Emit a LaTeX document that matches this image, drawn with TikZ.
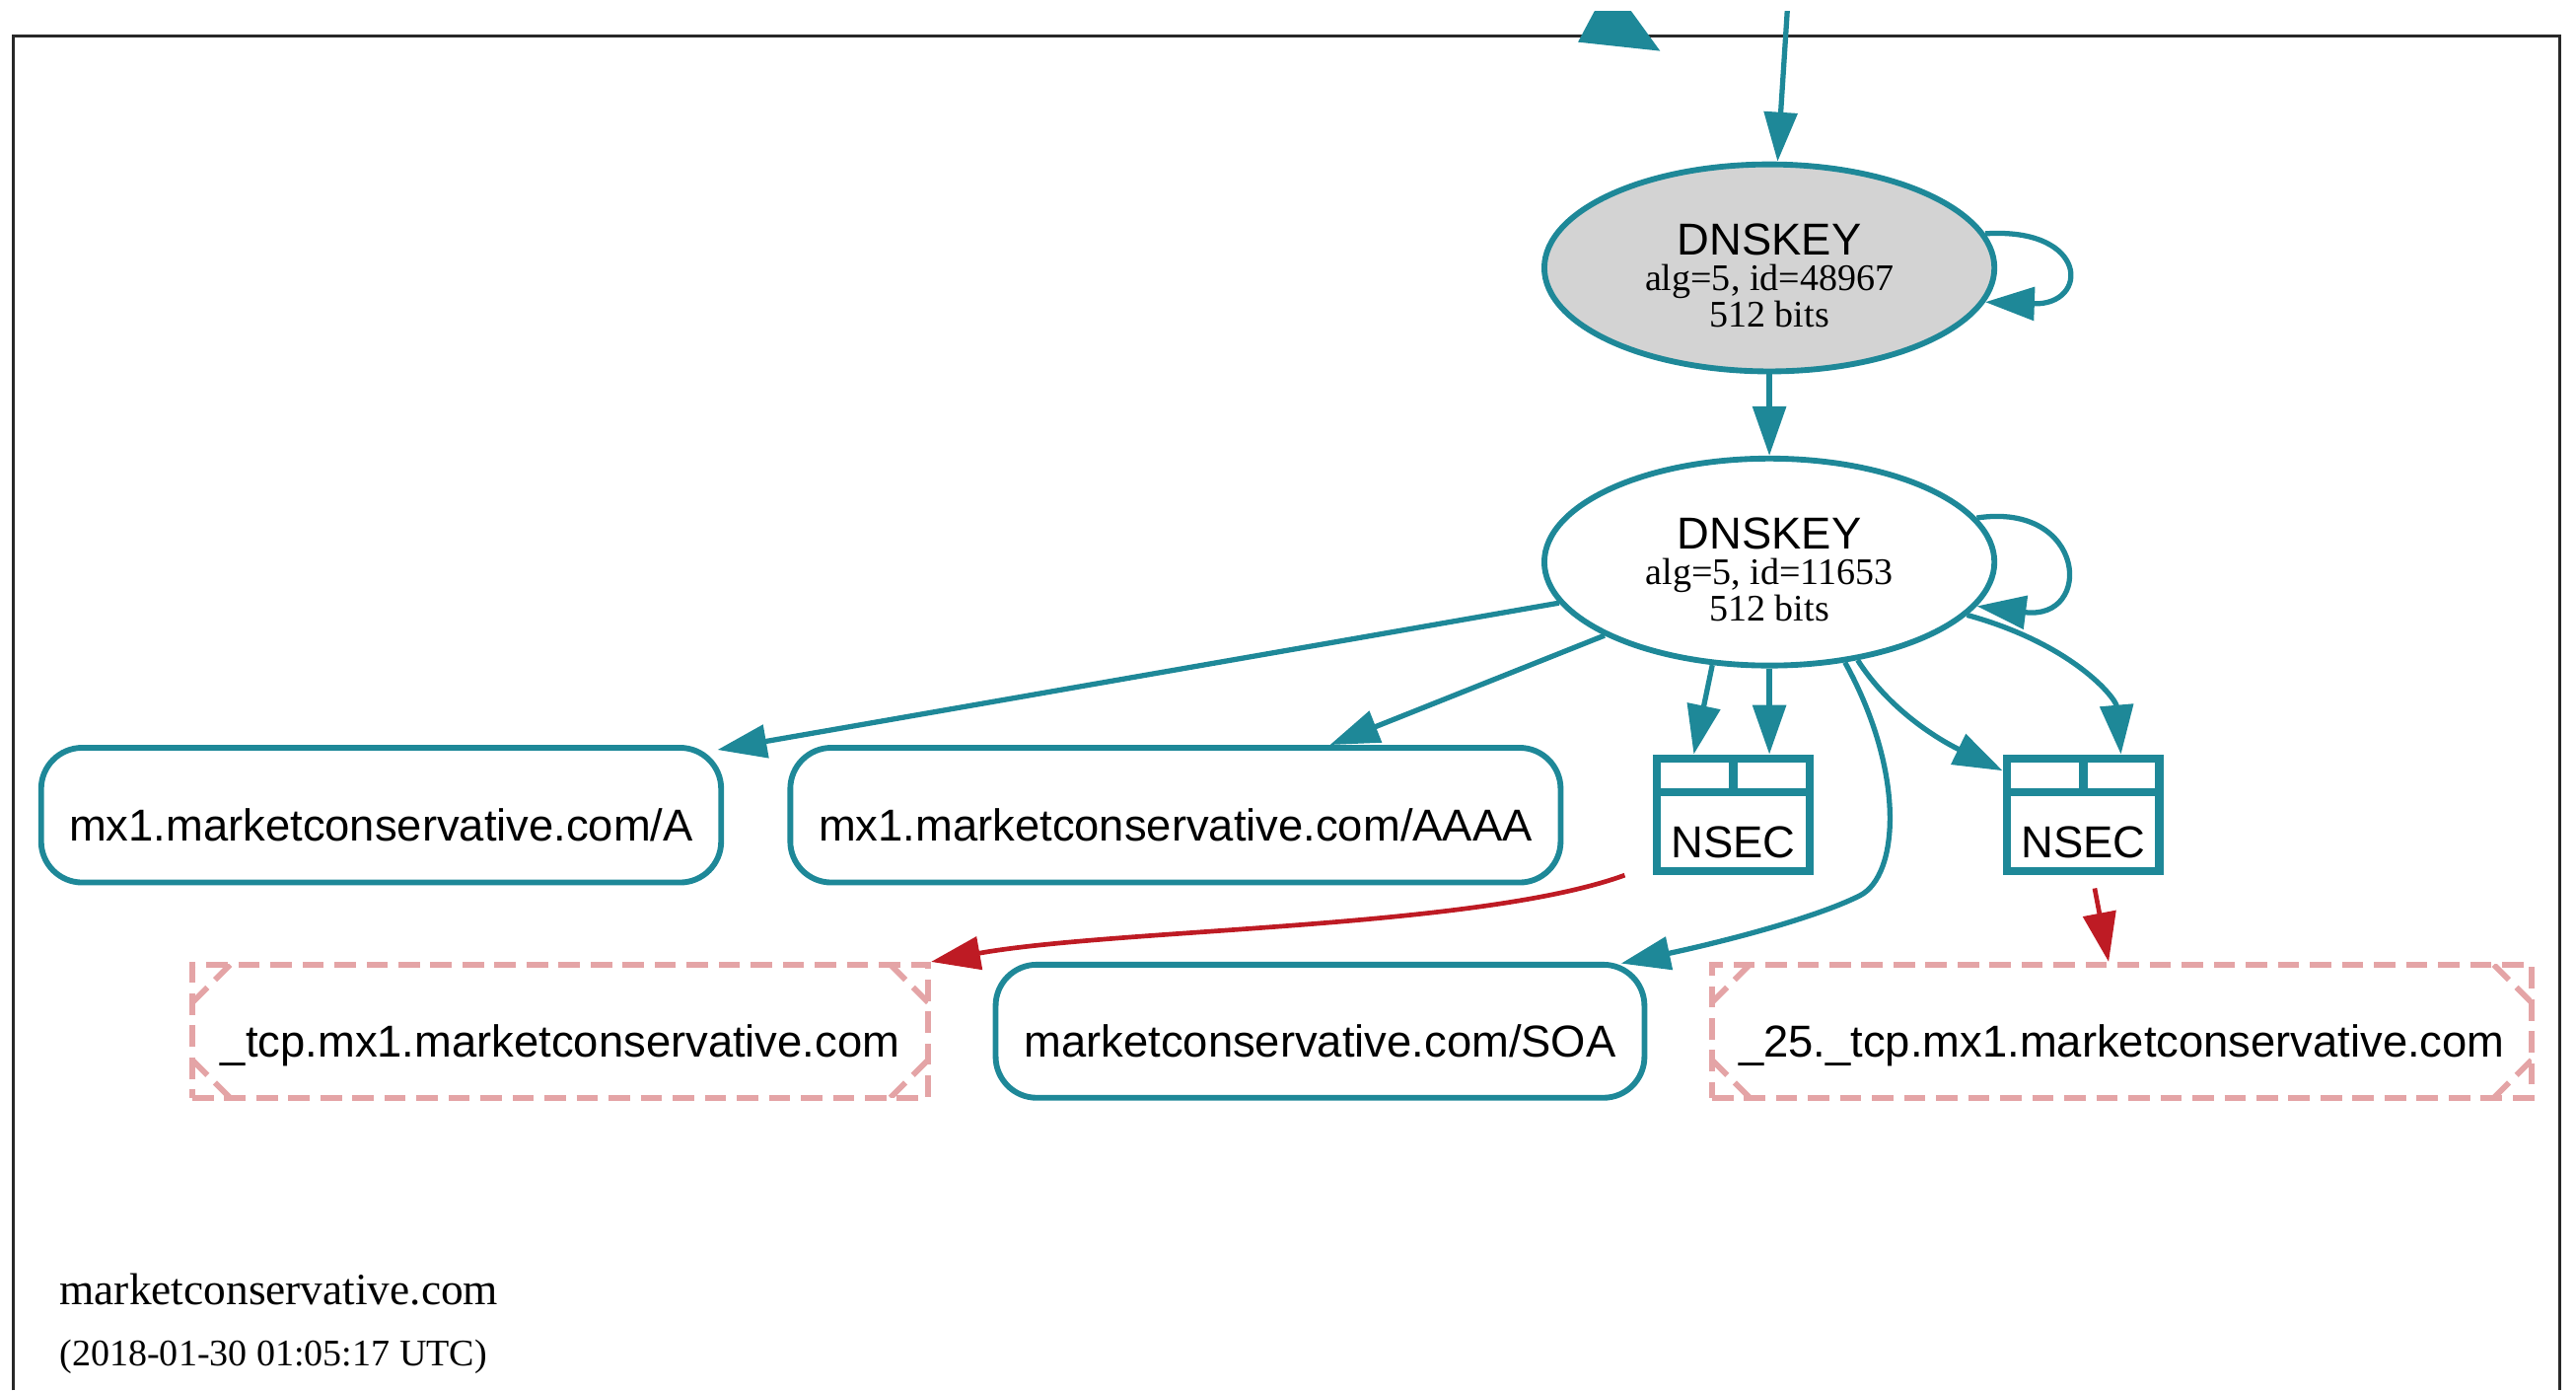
\documentclass[tikz,border=0pt]{standalone}
\usepackage{fontspec}
\setmainfont{Liberation Serif}
\setsansfont{Liberation Sans}
\usetikzlibrary{arrows.meta,shapes.geometric,calc}
\definecolor{tealc}{RGB}{30,136,152}
\definecolor{redc}{RGB}{190,27,36}
\definecolor{pinkc}{RGB}{228,164,166}
\definecolor{framec}{RGB}{40,40,40}
\definecolor{grayfill}{RGB}{211,211,211}
\begin{document}
\begin{tikzpicture}[x=0.02cm,y=-0.02cm,
  sftext/.style={font=\sffamily\fontsize{15.5}{18}\selectfont},
  key/.style={ellipse, draw=tealc, line width=2pt, minimum width=5.48cm, minimum height=2.52cm, inner sep=0pt},
  keytext/.style={align=center, inner sep=0pt, yshift=-0.09cm, font=\rmfamily\fontsize{13}{12.5}\selectfont},
  rrec/.style={rectangle, draw=tealc, line width=2pt, rounded corners=0.5cm, minimum height=1.64cm,
    inner sep=0pt, sftext, text height=0.63cm, text depth=0pt},
  dbox/.style={rectangle, draw=pinkc, line width=2pt, dash pattern=on 0.26cm off 0.13cm,
    minimum height=1.62cm, inner sep=0pt, sftext, text height=0.63cm, text depth=0pt,
    path picture={
      \draw[pinkc, line width=2pt, dash pattern=on 0.26cm off 0.13cm]
        ([xshift=0.46cm]path picture bounding box.north west) -- ([yshift=-0.46cm]path picture bounding box.north west)
        ([xshift=-0.46cm]path picture bounding box.north east) -- ([yshift=-0.46cm]path picture bounding box.north east)
        ([xshift=0.46cm]path picture bounding box.south west) -- ([yshift=0.46cm]path picture bounding box.south west)
        ([xshift=-0.46cm]path picture bounding box.south east) -- ([yshift=0.46cm]path picture bounding box.south east);
    }},
  nsec/.style={rectangle, draw=tealc, line width=2.9pt, minimum width=1.86cm, minimum height=1.37cm,
    inner sep=0pt, sftext, text height=1.05cm, text depth=0pt,
    path picture={
      \draw[tealc, line width=2.9pt]
        ([yshift=-0.41cm]path picture bounding box.north west) -- ([yshift=-0.41cm]path picture bounding box.north east)
        (path picture bounding box.north) -- ([yshift=-0.41cm]path picture bounding box.north);
    }},
  edge/.style={draw=tealc, line width=1.8pt, -{Triangle[length=0.6cm,width=0.4cm]}},
  redge/.style={draw=redc, line width=1.6pt, -{Triangle[length=0.6cm,width=0.4cm]}}
]
\useasboundingbox (0,0) rectangle (1568,846);
\clip (0,7) rectangle (1568,846);
\draw[framec, line width=0.9pt] (8,846) -- (8,22) -- (1558,22) -- (1558,846);
\fill[tealc] (960.5,25.6) -- (1010.5,31) -- (980,-11) -- cycle;

\node[key, fill=grayfill, label={[name=dk1t, keytext]center:{{\sffamily\fontsize{15.5}{18}\selectfont DNSKEY}\\alg=5, id=48967\\512 bits}}] (dk1) at (1077,163) {};
\node[key, label={[name=dk2t, keytext]center:{{\sffamily\fontsize{15.5}{18}\selectfont DNSKEY}\\alg=5, id=11653\\512 bits}}] (dk2) at (1077,342) {};
\node[rrec, minimum width=8.28cm] (A) at (232,496) {mx1.marketconservative.com/A};
\node[rrec, minimum width=9.38cm] (AAAA) at (715.5,496) {mx1.marketconservative.com/AAAA};
\node[nsec] (n1) at (1055,495.75) {NSEC};
\node[nsec] (n2) at (1268,495.75) {NSEC};
\node[dbox, minimum width=8.96cm] (tcp) at (341,627.5) {\_tcp.mx1.marketconservative.com};
\node[rrec, minimum width=7.9cm, minimum height=1.62cm] (soa) at (803.5,627.5) {marketconservative.com/SOA};
\node[dbox, minimum width=9.98cm] (t25) at (1291.5,627.5) {\_25.\_tcp.mx1.marketconservative.com};

\node[anchor=base west, inner sep=0pt, font=\rmfamily\fontsize{15.5}{18}\selectfont] (zone) at (36,794) {marketconservative.com};
\node[anchor=base west, inner sep=0pt, font=\rmfamily\fontsize{13}{15}\selectfont] (date) at (36,831) {(2018-01-30 01:05:17 UTC)};

\coordinate (topin) at (1088,5);
\draw[edge] (topin) -- ($(dk1.north)+(5,0)$);
\draw[edge] (dk1.9) .. controls (1272,138) and (1272,186) .. (dk1.-9);
\draw[edge] (dk1.south) -- (dk2.north);
\draw[edge] (dk2.12) .. controls (1270,305) and (1275,378) .. (dk2.-12);
\draw[edge] (dk2.191) -- ($(A.north east)+(-4,3)$);
\draw[edge] (dk2.204) -- ($(AAAA.north)+(94,0)$);
\draw[edge] (dk2.241) -- ($(n1.north)+(-24,0)$);
\draw[edge] (dk2.south) -- ($(n1.north)+(22,0)$);
\draw[edge] (dk2.307) .. controls (1160,470) and (1156,533) .. (1132,545)
  .. controls (1102,560) and (1040,575) .. ($(soa.north east)+(-16,1)$);
\draw[edge] (dk2.312) .. controls (1150,432) and (1180,450) .. ($(n2.north west)+(0,10)$);
\draw[edge] (dk2.345) .. controls (1262,392) and (1288,425) .. ($(n2.north)+(23,0)$);
\draw[redge] ($(n1.south west)+(-17,0)$) .. controls (900,565) and (680,565) .. (tcp.north east);
\draw[redge] ($(n2.south)+(7,8)$) -- ($(t25.north)+(-8,0)$);
\end{tikzpicture}
\end{document}
